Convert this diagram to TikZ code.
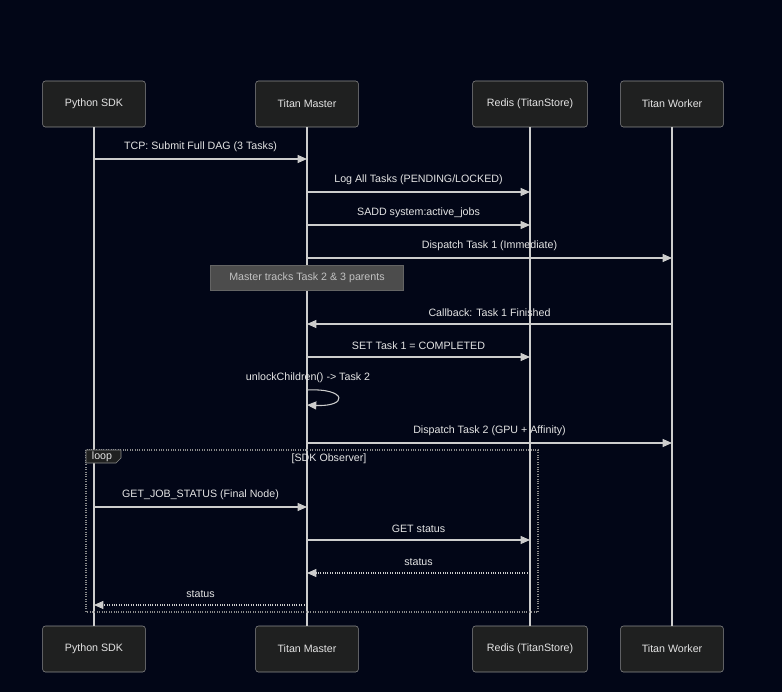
\documentclass[tikz,border=0pt]{standalone}
\usepackage{fontspec}
\setmainfont{Liberation Sans}
\usetikzlibrary{positioning,arrows.meta}
\definecolor{bgnavy}{RGB}{2,6,23}
\definecolor{actorfill}{RGB}{31,32,32}
\definecolor{actorline}{RGB}{140,140,140}
\definecolor{wire}{RGB}{205,205,205}
\definecolor{inktext}{RGB}{228,228,228}
\definecolor{notefill}{RGB}{76,76,76}
\definecolor{noteline}{RGB}{100,100,100}
\tikzset{
  actor/.style={draw=actorline,fill=actorfill,rounded corners=2pt,minimum width=77pt,minimum height=34.5pt,text=inktext,font=\fontsize{8}{10}\selectfont},
  life/.style={draw=wire,line width=0.8pt},
  msg/.style={draw=wire,line width=0.8pt,-{Triangle[length=7pt,width=6pt]}},
  reply/.style={msg,densely dotted},
  lbl/.style={text=inktext,font=\fontsize{8}{10}\selectfont},
}
\begin{document}
\begin{tikzpicture}[x=0.75pt,y=-0.75pt]
\fill[bgnavy] (0,0) rectangle (782,692);
\useasboundingbox (0,0) rectangle (782,692);
\node[actor] (pysdk) at (94,104) {Python SDK};
\node[actor] (master) at (307,104) {Titan Master};
\node[actor,minimum width=86pt] (redis) at (530,104) {Redis (TitanStore)};
\node[actor] (worker) at (672,104) {Titan Worker};
\node[actor] (pysdkB) at (94,649) {Python SDK};
\node[actor] (masterB) at (307,649) {Titan Master};
\node[actor,minimum width=86pt] (redisB) at (530,649) {Redis (TitanStore)};
\node[actor] (workerB) at (672,649) {Titan Worker};
\draw[life] (pysdk) -- (pysdkB);
\draw[life] (master) -- (masterB);
\draw[life] (redis) -- (redisB);
\draw[life] (worker) -- (workerB);
\draw[msg] (pysdk |- 0,159) -- (master |- 0,159) node[lbl,midway,above=1.5pt]{TCP: Submit Full DAG (3 Tasks)};
\draw[msg] (master |- 0,192) -- (redis |- 0,192) node[lbl,midway,above=1.5pt]{Log All Tasks (PENDING/LOCKED)};
\draw[msg] (master |- 0,225) -- (redis |- 0,225) node[lbl,midway,above=1.5pt]{SADD system:active\_jobs};
\draw[msg] (master |- 0,258) -- (worker |- 0,258) node[lbl,midway,above=1.5pt]{Dispatch Task 1 (Immediate)};
\node[draw=noteline,fill=notefill,text=inktext!85!black,font=\fontsize{8}{10}\selectfont,minimum width=145pt,minimum height=19pt] (tracknote) at (307,278) {Master tracks Task 2 \& 3 parents};
\draw[msg] (worker |- 0,324) -- (master |- 0,324) node[lbl,midway,above=1.5pt]{Callback: Task 1 Finished};
\draw[msg] (master |- 0,357) -- (redis |- 0,357) node[lbl,midway,above=1.5pt]{SET Task 1 = COMPLETED};
\node[lbl] (unlock) at (308,378) {unlockChildren() -> Task 2};
\coordinate (selfout) at (master |- 0,390);
\coordinate (selfin) at (master |- 0,405);
\draw[msg] (selfout) .. controls (348,388) and (348,407) .. (selfin);
\draw[msg] (master |- 0,443) -- (worker |- 0,443) node[lbl,midway,above=1.5pt]{Dispatch Task 2 (GPU + Affinity)};
\draw[actorline,densely dotted,line width=0.8pt] (86,450) rectangle (538,612);
\draw[actorline,fill=actorfill] (86,450) -- (121,450) -- (121,458) -- (116,463) -- (86,463) -- cycle;
\node[lbl] (looptag) at (102,457) {loop};
\node[lbl] (loopcond) at (329,459) {[SDK Observer]};
\draw[msg] (pysdk |- 0,507) -- (master |- 0,507) node[lbl,midway,above=1.5pt]{GET\_JOB\_STATUS (Final Node)};
\draw[msg] (master |- 0,540) -- (redis |- 0,540) node[lbl,midway,above=1.5pt]{GET status};
\draw[reply] (redis |- 0,573) -- (master |- 0,573) node[lbl,midway,above=1.5pt]{status};
\draw[reply] (master |- 0,605) -- (pysdk |- 0,605) node[lbl,midway,above=1.5pt]{status};
\end{tikzpicture}
\end{document}
